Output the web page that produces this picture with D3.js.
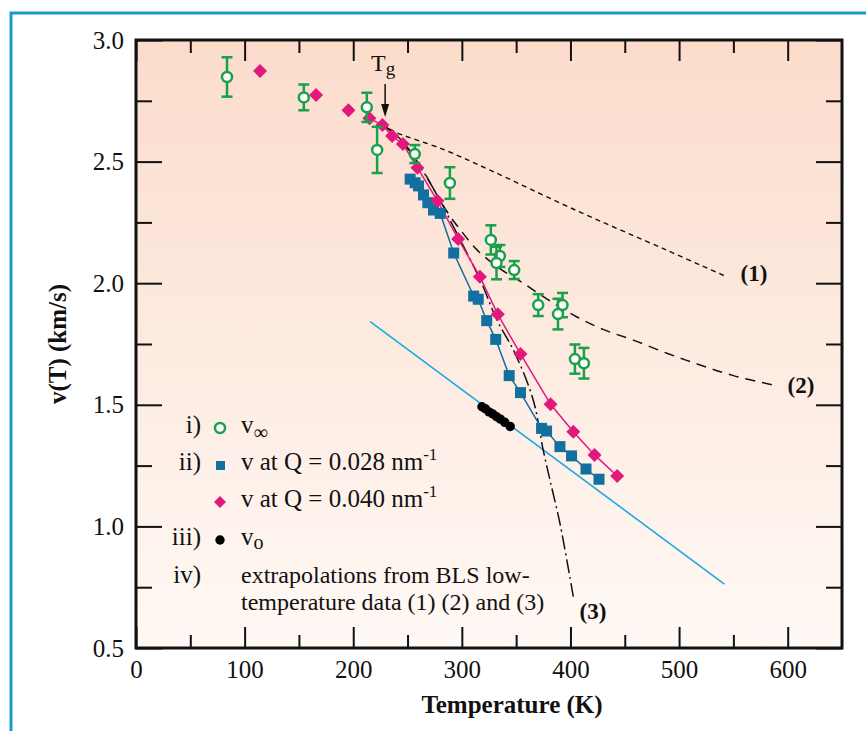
<!DOCTYPE html>
<html>
<head>
<meta charset="utf-8">
<script src="https://cdn.jsdelivr.net/npm/d3@7"></script>
<style>
  body { margin: 0; background: #fff; }
  svg text { font-family: "Liberation Serif", "Times New Roman", serif; fill: #111; }
</style>
</head>
<body>
<div id="chart"></div>
<script>
// dimensions de la page et de la zone de tracé
const width = 866, height = 731;
const plot = { left: 136, top: 40, right: 842, bottom: 648 };

// i) v infini, avec barres d'erreur (K, km/s)
const vInfT   = [83.8, 154.5, 212.5, 222, 256.7, 289, 326.7, 335, 331.9, 348.2, 370.3, 392.7, 388.5, 404.1, 412.4];
const vInfV   = [2.848, 2.764, 2.723, 2.548, 2.531, 2.412, 2.178, 2.112, 2.083, 2.054, 1.910, 1.910, 1.873, 1.688, 1.671];
const vInfErr = [0.081, 0.053, 0.06, 0.095, 0.037, 0.065, 0.06, 0.045, 0.067, 0.037, 0.045, 0.05, 0.063, 0.06, 0.063];

// ii) v à Q = 0.028 nm-1
const q28T = [252.4, 257.0, 260.1, 264.7, 268.7, 273.9, 280.1, 292.5, 310.9, 315.1, 322.9, 331.2, 343.6, 354.0, 373.4, 378.0, 390.3, 401.0, 414.3, 426.3];
const q28V = [2.428, 2.413, 2.400, 2.363, 2.331, 2.301, 2.287, 2.124, 1.947, 1.934, 1.846, 1.769, 1.620, 1.550, 1.403, 1.392, 1.328, 1.290, 1.236, 1.194];

// v à Q = 0.040 nm-1 (la ligne ne relie qu'à partir de ~215 K)
const q40T = [114.2, 165.8, 195.6, 214.9, 226.9, 235.8, 245.7, 259.1, 277.5, 296.6, 316.6, 333.1, 354.0, 381.7, 402.6, 422.2, 443.0];
const q40V = [2.873, 2.774, 2.711, 2.678, 2.650, 2.605, 2.572, 2.475, 2.339, 2.182, 2.027, 1.872, 1.709, 1.502, 1.389, 1.294, 1.207];
const q40LineStart = 3;

// iii) v0
const v0T = [318.5, 321.5, 325, 328.5, 332, 335.5, 339.5, 344.5];
const v0V = [1.492, 1.484, 1.471, 1.462, 1.451, 1.441, 1.428, 1.411];

// droite bleu clair passant par v0
const fitT = [215.6, 541.7];
const fitV = [1.842, 0.763];

// iv) extrapolations BLS (1) (2) (3)
const ext1T = [226.6, 237, 283, 326, 400, 488, 542];
const ext1V = [2.655, 2.625, 2.55, 2.465, 2.31, 2.137, 2.03];
const ext2T = [226.6, 245, 262, 280, 290, 298.5, 314, 335, 356.5, 380, 405.6, 430, 457.8, 490, 519.3, 550, 586.8];
const ext2V = [2.655, 2.585, 2.48, 2.34, 2.27, 2.22, 2.137, 2.06, 2.0, 1.93, 1.862, 1.81, 1.766, 1.71, 1.664, 1.62, 1.581];
const ext3T = [226.6, 245, 261.6, 280, 292.3, 316.9, 332.3, 348.9, 365.7, 374.9, 381.1, 390.3, 402.6];
const ext3V = [2.655, 2.58, 2.479, 2.34, 2.232, 2.013, 1.849, 1.712, 1.52, 1.314, 1.191, 1.013, 0.711];

// graduations
const xMajor = [0, 100, 200, 300, 400, 500, 600];
const xMinor = [50, 150, 250, 350, 450, 550];
const yMajor = [0.5, 1.0, 1.5, 2.0, 2.5, 3.0];
const yMinor = [0.75, 1.25, 1.75, 2.25, 2.75];
const Tg = 226.6;

const green = "#18a04b", magenta = "#e3187d", blue = "#11709f", cyan = "#1ca9e3", frame = "#1b9bc8";

const svg = d3.select("#chart").append("svg")
    .attr("width", width)
    .attr("height", height);

// cadre bleu autour de la figure
svg.append("rect")
    .attr("x", 11).attr("y", 13)
    .attr("width", 1000).attr("height", 1000)
    .attr("fill", "none").attr("stroke", frame).attr("stroke-width", 3);

// dégradé du fond
const grad = svg.append("defs").append("linearGradient")
    .attr("id", "bg").attr("x1", 0).attr("y1", 0).attr("x2", 0).attr("y2", 1);
grad.append("stop").attr("offset", "0%").attr("stop-color", "#fbdccb");
grad.append("stop").attr("offset", "100%").attr("stop-color", "#fff9f5");

svg.append("rect")
    .attr("x", plot.left).attr("y", plot.top)
    .attr("width", plot.right - plot.left).attr("height", plot.bottom - plot.top)
    .attr("fill", "url(#bg)");

const x = d3.scaleLinear().domain([0, 650]).range([plot.left, plot.right]);
const y = d3.scaleLinear().domain([0.5, 3.0]).range([plot.bottom, plot.top]);

// axes : graduations vers l'intérieur sur les quatre côtés
function styleAxis(g) {
    g.select(".domain").remove();
    g.selectAll(".tick line").attr("stroke", "#111").attr("stroke-width", 2);
    g.selectAll(".tick text").attr("font-size", 25).attr("fill", "#111")
        .attr("font-family", '"Liberation Serif", "Times New Roman", serif');
}
svg.append("g").attr("transform", `translate(0,${plot.bottom})`)
    .call(d3.axisBottom(x).tickValues(xMajor).tickSize(-21).tickPadding(12).tickFormat(d3.format("d")))
    .call(styleAxis);
svg.append("g").attr("transform", `translate(0,${plot.bottom})`)
    .call(d3.axisBottom(x).tickValues(xMinor).tickSize(-13).tickFormat(""))
    .call(styleAxis);
svg.append("g").attr("transform", `translate(0,${plot.top})`)
    .call(d3.axisTop(x).tickValues(xMajor).tickSize(-21).tickFormat(""))
    .call(styleAxis);
svg.append("g").attr("transform", `translate(0,${plot.top})`)
    .call(d3.axisTop(x).tickValues(xMinor).tickSize(-13).tickFormat(""))
    .call(styleAxis);
svg.append("g").attr("transform", `translate(${plot.left},0)`)
    .call(d3.axisLeft(y).tickValues(yMajor).tickSize(-26).tickPadding(12).tickFormat(d3.format(".1f")))
    .call(styleAxis);
svg.append("g").attr("transform", `translate(${plot.left},0)`)
    .call(d3.axisLeft(y).tickValues(yMinor).tickSize(-16).tickFormat(""))
    .call(styleAxis);
svg.append("g").attr("transform", `translate(${plot.right},0)`)
    .call(d3.axisRight(y).tickValues(yMajor).tickSize(-26).tickFormat(""))
    .call(styleAxis);
svg.append("g").attr("transform", `translate(${plot.right},0)`)
    .call(d3.axisRight(y).tickValues(yMinor).tickSize(-16).tickFormat(""))
    .call(styleAxis);

// titres des axes
svg.append("text")
    .attr("transform", `translate(66,${(plot.top + plot.bottom) / 2}) rotate(-90)`)
    .attr("text-anchor", "middle").attr("font-weight", "bold").attr("font-size", 25)
    .text("v(T) (km/s)");
svg.append("text")
    .attr("x", 512).attr("y", 713)
    .attr("text-anchor", "middle").attr("font-weight", "bold").attr("font-size", 25)
    .text("Temperature (K)");

const line = d3.line().x(d => x(d[0])).y(d => y(d[1]));
const smooth = d3.line().x(d => x(d[0])).y(d => y(d[1])).curve(d3.curveCatmullRom);
const pairs = (a, b) => a.map((t, i) => [t, b[i]]);

// droite d'ajustement bleu clair
svg.append("path").datum(pairs(fitT, fitV))
    .attr("d", line).attr("fill", "none").attr("stroke", cyan).attr("stroke-width", 1.6);

// extrapolations
svg.append("path").datum(pairs(ext1T, ext1V))
    .attr("d", smooth).attr("fill", "none").attr("stroke", "#111")
    .attr("stroke-width", 1.4).attr("stroke-dasharray", "5,4");
svg.append("path").datum(pairs(ext2T, ext2V))
    .attr("d", smooth).attr("fill", "none").attr("stroke", "#111")
    .attr("stroke-width", 1.5).attr("stroke-dasharray", "10,7");
svg.append("path").datum(pairs(ext3T, ext3V))
    .attr("d", smooth).attr("fill", "none").attr("stroke", "#111")
    .attr("stroke-width", 1.5).attr("stroke-dasharray", "14,4,2,4");

// lignes des séries Q
svg.append("path").datum(pairs(q28T, q28V))
    .attr("d", line).attr("fill", "none").attr("stroke", blue).attr("stroke-width", 1.5);
svg.append("path").datum(pairs(q40T, q40V).slice(q40LineStart))
    .attr("d", line).attr("fill", "none").attr("stroke", magenta).attr("stroke-width", 1.5);

// carrés Q = 0.028
svg.append("g").selectAll("rect")
    .data(pairs(q28T, q28V)).join("rect")
    .attr("x", d => x(d[0]) - 5.5).attr("y", d => y(d[1]) - 5.5)
    .attr("width", 11).attr("height", 11).attr("fill", blue);

// losanges Q = 0.040
const diamond = (cx, cy, r) => `M${cx},${cy - r}L${cx + r},${cy}L${cx},${cy + r}L${cx - r},${cy}Z`;
svg.append("g").selectAll("path")
    .data(pairs(q40T, q40V)).join("path")
    .attr("d", d => diamond(x(d[0]), y(d[1]), 7)).attr("fill", magenta);

// points v0
svg.append("g").selectAll("circle")
    .data(pairs(v0T, v0V)).join("circle")
    .attr("cx", d => x(d[0])).attr("cy", d => y(d[1])).attr("r", 4.7).attr("fill", "#000");

// v infini avec barres d'erreur
const vinf = svg.append("g").selectAll("g")
    .data(vInfT.map((t, i) => ({ t, v: vInfV[i], e: vInfErr[i] }))).join("g")
    .attr("stroke", green).attr("stroke-width", 2.5);
vinf.append("line")
    .attr("x1", d => x(d.t)).attr("x2", d => x(d.t))
    .attr("y1", d => y(d.v + d.e)).attr("y2", d => y(d.v - d.e));
vinf.append("line")
    .attr("x1", d => x(d.t) - 5.5).attr("x2", d => x(d.t) + 5.5)
    .attr("y1", d => y(d.v + d.e)).attr("y2", d => y(d.v + d.e));
vinf.append("line")
    .attr("x1", d => x(d.t) - 5.5).attr("x2", d => x(d.t) + 5.5)
    .attr("y1", d => y(d.v - d.e)).attr("y2", d => y(d.v - d.e));
vinf.append("circle")
    .attr("cx", d => x(d.t)).attr("cy", d => y(d.v)).attr("r", 5).attr("fill", "#fff");

// cadre du graphique
svg.append("rect")
    .attr("x", plot.left).attr("y", plot.top)
    .attr("width", plot.right - plot.left).attr("height", plot.bottom - plot.top)
    .attr("fill", "none").attr("stroke", "#111").attr("stroke-width", 3);

// Tg et sa flèche
const tgText = svg.append("text").attr("x", x(Tg) + 1).attr("y", 71)
    .attr("text-anchor", "middle").attr("font-size", 24);
tgText.append("tspan").text("T");
tgText.append("tspan").attr("font-size", 19).attr("dy", 4).text("g");
svg.append("line")
    .attr("x1", x(Tg) + 3).attr("x2", x(Tg) + 3).attr("y1", 84).attr("y2", 110)
    .attr("stroke", "#111").attr("stroke-width", 1.5);
svg.append("path")
    .attr("d", `M${x(Tg) - 1},104L${x(Tg) + 7},104L${x(Tg) + 3},117Z`).attr("fill", "#111");

// étiquettes des extrapolations
const labels = [["(1)", 754, 281], ["(2)", 801, 393], ["(3)", 593, 619]];
svg.append("g").selectAll("text").data(labels).join("text")
    .attr("x", d => d[1]).attr("y", d => d[2])
    .attr("text-anchor", "middle").attr("font-weight", "bold").attr("font-size", 23)
    .text(d => d[0]);

// légende
const lg = svg.append("g");
const num = [["i)", 433], ["ii)", 470], ["iii)", 545], ["iv)", 583]];
lg.selectAll("text.num").data(num).join("text")
    .attr("class", "num").attr("x", 201).attr("y", d => d[1])
    .attr("text-anchor", "end").attr("font-size", 25).text(d => d[0]);

lg.append("circle").attr("cx", 220).attr("cy", 428).attr("r", 5)
    .attr("fill", "#fff").attr("stroke", green).attr("stroke-width", 2.5);
lg.append("rect").attr("x", 216).attr("y", 461).attr("width", 9).attr("height", 9).attr("fill", blue);
lg.append("path").attr("d", diamond(220, 502, 6)).attr("fill", magenta);
lg.append("circle").attr("cx", 220).attr("cy", 540).attr("r", 4.7).attr("fill", "#000");

const t1 = lg.append("text").attr("x", 241).attr("y", 433).attr("font-size", 25);
t1.append("tspan").text("v");
t1.append("tspan").attr("font-size", 20).attr("dy", 6).text("∞");
const t2 = lg.append("text").attr("x", 241).attr("y", 470).attr("font-size", 25);
t2.append("tspan").text("v at Q = 0.028 nm");
t2.append("tspan").attr("font-size", 17).attr("dy", -10).text("-1");
const t3 = lg.append("text").attr("x", 241).attr("y", 507).attr("font-size", 25);
t3.append("tspan").text("v at Q = 0.040 nm");
t3.append("tspan").attr("font-size", 17).attr("dy", -10).text("-1");
const t4 = lg.append("text").attr("x", 241).attr("y", 545).attr("font-size", 25);
t4.append("tspan").text("v");
t4.append("tspan").attr("font-size", 20).attr("dy", 4).text("o");
lg.append("text").attr("x", 241).attr("y", 583).attr("font-size", 24)
    .text("extrapolations from BLS low-");
lg.append("text").attr("x", 241).attr("y", 610).attr("font-size", 24)
    .text("temperature data (1) (2) and (3)");
</script>
</body>
</html>
